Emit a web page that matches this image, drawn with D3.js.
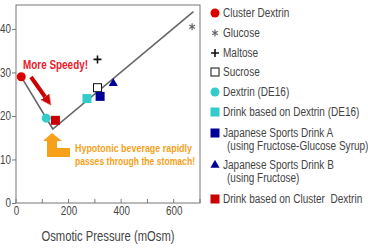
<!DOCTYPE html>
<html>
<head>
<meta charset="utf-8">
<script src="https://cdn.jsdelivr.net/npm/d3@7"></script>
<style>
  html, body { margin: 0; padding: 0; background: #fff; }
  svg text { font-family: "Liberation Sans", Arial, sans-serif; }
</style>
</head>
<body>
<div id="chart"></div>
<script>
// Osmotic pressure vs gastric emptying
const xTicks = [0, 200, 400, 600];
const xMinorTicks = [100, 300, 500, 700];
const yTicks = [0, 10, 20, 30, 40];

// trend line (V shape)
const lineX = [20, 140, 675];
const lineY = [29, 17, 44];

// points
const pointNames = ['Cluster Dextrin', 'Glucose', 'Maltose', 'Sucrose', 'Dextrin (DE16)',
  'Drink based on Dextrin (DE16)', 'Japanese Sports Drink A', 'Japanese Sports Drink B',
  'Drink based on Cluster Dextrin'];
const pointX = [20, 670, 310, 310, 115, 270, 320, 370, 150];
const pointY = [29, 40.5, 33, 26.5, 19.5, 24, 24.5, 27.5, 19];
const pointShape = ['circle', 'asterisk', 'plus', 'openSquare', 'circle', 'square', 'square', 'triangle', 'square'];
const pointColor = ['#dd0000', '#666666', '#111111', '#111111', '#33cccc', '#33cccc', '#000099', '#000099', '#cc0000'];

// legend
const legendLabels = [
  ['Cluster Dextrin'],
  ['Glucose'],
  ['Maltose'],
  ['Sucrose'],
  ['Dextrin (DE16)'],
  ['Drink based on Dextrin (DE16)'],
  ['Japanese Sports Drink A', '(using Fructose-Glucose Syrup)'],
  ['Japanese Sports Drink B', '(using Fructose)'],
  ['Drink based on Cluster  Dextrin']
];
const legendRowY = [13, 33, 53, 72, 92, 112, 133, 165, 199];

const W = 368, H = 248;
const svg = d3.select('#chart').append('svg').attr('width', W).attr('height', H);

// squeeze text horizontally (no narrow font installed)
function narrow(sel, f) {
  sel.each(function() {
    const len = this.getComputedTextLength();
    d3.select(this).attr('textLength', len * f).attr('lengthAdjust', 'spacingAndGlyphs');
  });
}

const x = d3.scaleLinear().domain([0, 700]).range([16, 200]);
const y = d3.scaleLinear().domain([0, 45.5]).range([203, 5]);

// frame
svg.append('rect').attr('x', 16).attr('y', 5).attr('width', 184).attr('height', 198)
  .attr('fill', 'none').attr('stroke', '#777').attr('stroke-width', 1);

// y axis
const yAxis = svg.append('g').attr('transform', 'translate(16,0)')
  .call(d3.axisLeft(y).tickValues(yTicks).tickSize(4).tickPadding(1));
yAxis.select('.domain').remove();
yAxis.selectAll('line').attr('stroke', '#777');
yAxis.selectAll('text').attr('font-size', 12).attr('fill', '#444').call(narrow, 0.82);

// x axis (ticks inside)
const xAxis = svg.append('g').attr('transform', 'translate(0,203)')
  .call(d3.axisBottom(x).tickValues(xTicks).tickSize(0).tickPadding(3));
xAxis.select('.domain').remove();
xAxis.selectAll('text').attr('font-size', 12).attr('fill', '#444').call(narrow, 0.82);
svg.append('g').selectAll('line').data(xTicks.concat(xMinorTicks)).enter().append('line')
  .attr('x1', d => x(d)).attr('x2', d => x(d)).attr('y1', 203).attr('y2', 199)
  .attr('stroke', '#777');

svg.append('text').attr('x', 108).attr('y', 241).attr('text-anchor', 'middle')
  .attr('font-size', 14).attr('fill', '#444').text('Osmotic Pressure (mOsm)')
  .attr('textLength', 133).attr('lengthAdjust', 'spacingAndGlyphs');

// trend line
const line = d3.line().x(d => x(d[0])).y(d => y(d[1]));
svg.append('path').datum(d3.zip(lineX, lineY)).attr('fill', 'none')
  .attr('stroke', '#666').attr('stroke-width', 1.6).attr('d', line);

function drawMarker(g, shape, color, cx, cy) {
  if (shape === 'circle') {
    g.append('circle').attr('cx', cx).attr('cy', cy).attr('r', 4.5).attr('fill', color);
  } else if (shape === 'square') {
    g.append('rect').attr('x', cx - 4.5).attr('y', cy - 4.5).attr('width', 9).attr('height', 9).attr('fill', color);
  } else if (shape === 'openSquare') {
    g.append('rect').attr('x', cx - 4).attr('y', cy - 4).attr('width', 8).attr('height', 8)
      .attr('fill', '#fff').attr('stroke', color).attr('stroke-width', 1);
  } else if (shape === 'triangle') {
    g.append('path').attr('d', d3.symbol(d3.symbolTriangle, 36)()).attr('transform', `translate(${cx},${cy})`).attr('fill', color);
  } else if (shape === 'plus') {
    g.append('path').attr('d', `M${cx - 4},${cy}H${cx + 4}M${cx},${cy - 4}V${cy + 4}`)
      .attr('stroke', color).attr('stroke-width', 1.6);
  } else if (shape === 'asterisk') {
    const r = 3.5, d = r * 0.8;
    g.append('path').attr('d', `M${cx},${cy - r}V${cy + r}M${cx - d},${cy - d / 1.6}L${cx + d},${cy + d / 1.6}M${cx - d},${cy + d / 1.6}L${cx + d},${cy - d / 1.6}`)
      .attr('stroke', color).attr('stroke-width', 1.2);
  }
}

// points (drawn in order so the open square sits behind the blue one)
const order = [0, 4, 8, 5, 3, 6, 7, 2, 1];
const pts = svg.append('g');
order.forEach(i => drawMarker(pts, pointShape[i], pointColor[i], x(pointX[i]), y(pointY[i])));

// red arrow "More Speedy!"
svg.append('defs').append('marker').attr('id', 'redHead').attr('viewBox', '0 0 10 10')
  .attr('refX', 5).attr('refY', 5).attr('markerWidth', 2.6).attr('markerHeight', 2.6)
  .attr('orient', 'auto').attr('markerUnits', 'strokeWidth')
  .append('path').attr('d', 'M0,0L10,5L0,10Z').attr('fill', '#cc0000').attr('stroke', '#f08080').attr('stroke-width', 0.6);
svg.append('line').attr('x1', 31).attr('y1', 77).attr('x2', 48).attr('y2', 101)
  .attr('stroke', '#cc0000').attr('stroke-width', 4).attr('marker-end', 'url(#redHead)');
svg.append('text').attr('x', 23).attr('y', 68.5).attr('font-size', 12).attr('font-weight', 'bold')
  .attr('fill', '#e8202a').text('More Speedy!')
  .attr('textLength', 65).attr('lengthAdjust', 'spacingAndGlyphs');

// orange arrow
svg.append('path')
  .attr('d', 'M52,133L62,141L57,141L57,148L70,148L70,157L47,157L47,141L43,141Z')
  .attr('fill', '#f7a11a');
svg.append('text').attr('x', 75).attr('y', 152).attr('font-size', 11.5).attr('font-weight', 'bold')
  .attr('fill', '#f7a11a').text('Hypotonic beverage rapidly')
  .attr('textLength', 117).attr('lengthAdjust', 'spacingAndGlyphs');
svg.append('text').attr('x', 75).attr('y', 165).attr('font-size', 11.5).attr('font-weight', 'bold')
  .attr('fill', '#f7a11a').text('passes through the stomach!')
  .attr('textLength', 120).attr('lengthAdjust', 'spacingAndGlyphs');

// legend
const lg = svg.append('g');
legendLabels.forEach((lines, i) => {
  const ry = legendRowY[i];
  drawMarker(lg, pointShape[i], pointColor[i], 215, ry);
  lines.forEach((t, j) => {
    lg.append('text').attr('x', j ? 227 : 223).attr('y', ry + 4 + j * 13).attr('font-size', 12)
      .attr('fill', '#444').style('white-space', 'pre').text(t).call(narrow, 0.835);
  });
});
</script>
</body>
</html>
